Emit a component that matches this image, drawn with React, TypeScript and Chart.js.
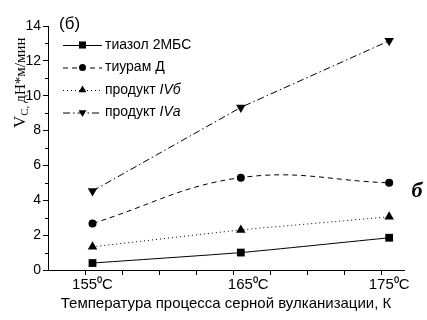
import React, { useEffect, useRef } from "react";
import { Chart, registerables } from "chart.js";
import { drawPoint } from "chart.js/helpers";

Chart.register(...registerables);

// ---- data ----
const temperatures = [155, 165, 175];
const thiazole2MBS = [0.4, 1.0, 1.85];
const thiuramD = [2.67, 5.3, 5.0];
const productIVb = [1.33, 2.3, 3.05];
const productIVa = [4.53, 9.33, 13.15];

const seriesNames = ["тиазол 2МБС", "тиурам Д", "продукт ", "продукт "];
const seriesItalic = ["", "", "IVб", "IVа"];
const xTickLabels = ["155⁰C", "165⁰C", "175⁰C"];
const xLabelValues = [155, 165.5, 175];
const xMarkValues = [154.5, 157, 159.5, 162, 164.5, 167, 169.5, 172, 174.5];
const yMinorTicks = [1, 3, 5, 7, 9, 11, 13];

const panelLabel = "(б)";
const sideLabel = "б";
const xTitle = "Температура процесса серной вулканизации, К";
const yTitleMain = "V";
const yTitleSub = "C,";
const yTitleRest = "дН*м/мин";

const SANS = "'Liberation Sans', Arial, sans-serif";
const SERIF = "'Liberation Serif', 'Times New Roman', serif";

const styles = [
  { dash: [], pointStyle: "rect", rotation: 0, radius: 5.5, legendRadius: 5, tension: 0.15 },
  { dash: [5, 4], pointStyle: "circle", rotation: 0, radius: 4, legendRadius: 3.5, tension: 0.4 },
  { dash: [1, 3], pointStyle: "triangle", rotation: 0, radius: 5.5, legendRadius: 4.5, tension: 0.1 },
  { dash: [7, 3, 1.5, 3], pointStyle: "triangle", rotation: 180, radius: 5.5, legendRadius: 4.5, tension: 0 },
];

const seriesValues = [thiazole2MBS, thiuramD, productIVb, productIVa];

const decorPlugin = {
  id: "decor",
  afterDraw(chart: any) {
    const ctx: CanvasRenderingContext2D = chart.ctx;
    const xs = chart.scales.x;
    const ys = chart.scales.y;
    ctx.save();
    // minor y ticks
    ctx.strokeStyle = "#000";
    ctx.lineWidth = 1;
    ctx.setLineDash([]);
    for (const v of yMinorTicks) {
      const py = Math.round(ys.getPixelForValue(v)) + 0.5;
      ctx.beginPath();
      ctx.moveTo(xs.left - 3, py);
      ctx.lineTo(xs.left, py);
      ctx.stroke();
    }

    // legend
    const rowY = [45, 67.5, 90, 112.5];
    const lx0 = 63;
    const lx1 = 102;
    const mx = 82.5;
    const tx = 105;
    seriesNames.forEach((name, i) => {
      const st = styles[i];
      const y = rowY[i];
      ctx.strokeStyle = "#000";
      ctx.lineWidth = 1;
      ctx.setLineDash(st.dash);
      ctx.beginPath();
      ctx.moveTo(lx0, y + 0.5);
      ctx.lineTo(lx1, y + 0.5);
      ctx.stroke();
      ctx.setLineDash([]);
      ctx.fillStyle = "#000";
      drawPoint(ctx, { pointStyle: st.pointStyle as any, rotation: st.rotation, radius: st.legendRadius, borderWidth: 0 } as any, mx, y);
      ctx.fillStyle = "#000";
      ctx.textBaseline = "middle";
      ctx.textAlign = "left";
      ctx.font = `14px ${SANS}`;
      ctx.fillText(name, tx, y);
      if (seriesItalic[i]) {
        const w = ctx.measureText(name).width;
        ctx.font = `italic 14px ${SANS}`;
        ctx.fillText(seriesItalic[i], tx + w, y);
      }
    });

    // panel label
    ctx.fillStyle = "#000";
    ctx.textBaseline = "alphabetic";
    ctx.textAlign = "left";
    ctx.font = `17px ${SANS}`;
    ctx.fillText(panelLabel, 59, 29);

    // side label
    ctx.font = `bold italic 22px ${SERIF}`;
    ctx.textAlign = "center";
    ctx.fillText(sideLabel, 417, 197);

    // y title
    ctx.save();
    ctx.translate(25, 128);
    ctx.rotate(-Math.PI / 2);
    ctx.textAlign = "left";
    ctx.textBaseline = "alphabetic";
    ctx.font = `17px ${SERIF}`;
    ctx.fillText(yTitleMain, 0, 0);
    let off = ctx.measureText(yTitleMain).width;
    ctx.font = `11px ${SERIF}`;
    ctx.fillText(yTitleSub, off, 3);
    off += ctx.measureText(yTitleSub).width + 3;
    ctx.font = `15px ${SERIF}`;
    ctx.fillText(yTitleRest, off, 0);
    ctx.restore();

    ctx.restore();
  },
};

export default function App() {
  const ref = useRef<HTMLCanvasElement | null>(null);
  useEffect(() => {
    document.body.style.margin = "0";
    const canvas = ref.current!;
    const datasets = seriesValues.map((vals, i) => ({
      label: seriesNames[i] + seriesItalic[i],
      data: temperatures.map((t, k) => ({ x: t, y: vals[k] })),
      borderColor: "#000",
      backgroundColor: "#000",
      borderWidth: 1,
      borderDash: styles[i].dash,
      pointStyle: styles[i].pointStyle,
      rotation: styles[i].rotation,
      pointRadius: styles[i].radius,
      pointBorderWidth: 0,
      pointBackgroundColor: "#000",
      tension: styles[i].tension,
      fill: false,
    }));
    const allXTicks = [...xMarkValues, ...xLabelValues].sort((a, b) => a - b);
    const chart = new Chart(canvas, {
      type: "line",
      data: { datasets } as any,
      options: {
        animation: false,
        responsive: false,
        devicePixelRatio: 1,
        layout: { padding: { left: 0, right: 23, top: 26, bottom: 0 } },
        plugins: { legend: { display: false }, tooltip: { enabled: false }, title: { display: false } },
        scales: {
          x: {
            type: "linear",
            min: 152,
            max: 176,
            afterFit: (s: any) => {
              s.height = 50;
            },
            afterBuildTicks: (s: any) => {
              s.ticks = allXTicks.map((v) => ({ value: v }));
            },
            border: { display: true, color: "#000", width: 1 },
            grid: {
              drawOnChartArea: false,
              drawTicks: true,
              tickLength: 5,
              tickWidth: 1,
              tickColor: (c: any) =>
                c.tick && xLabelValues.includes(c.tick.value) ? "rgba(0,0,0,0)" : "#000",
            },
            ticks: {
              autoSkip: false,
              maxRotation: 0,
              minRotation: 0,
              padding: 1,
              color: "#000",
              font: { family: SANS, size: 15 },
              callback: (v: any) => {
                const idx = xLabelValues.indexOf(Number(v));
                return idx >= 0 ? xTickLabels[idx] : "";
              },
            },
            title: {
              display: true,
              text: xTitle,
              color: "#000",
              font: { family: SANS, size: 15 },
              padding: { top: 0, bottom: 7 },
            },
          },
          y: {
            type: "linear",
            min: 0,
            max: 14,
            afterFit: (s: any) => {
              s.width = 48;
            },
            border: { display: true, color: "#000", width: 1 },
            grid: { drawOnChartArea: false, drawTicks: true, tickLength: 5, tickColor: "#000" },
            ticks: {
              stepSize: 2,
              padding: 2,
              color: "#000",
              font: { family: SANS, size: 14 },
            },
          },
        },
      } as any,
      plugins: [decorPlugin],
    });
    return () => chart.destroy();
  }, []);
  return <canvas ref={ref} width={427} height={320} style={{ display: "block" }} />;
}
